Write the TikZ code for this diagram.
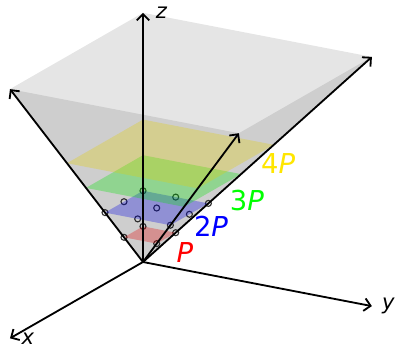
\documentclass[tikz,border=0pt]{standalone}
\usepackage{fontspec}
\setmainfont{DejaVu Sans}
\usetikzlibrary{arrows.meta}
\definecolor{lred}{HTML}{FF0000}
\definecolor{lblue}{HTML}{0000FF}
\definecolor{lgreen}{HTML}{00FF00}
\definecolor{lyellow}{HTML}{FFE600}
\tikzset{
  face/.style={fill=black, fill opacity=0.1, draw=none},
  layer/.style={fill opacity=0.3, draw=none},
  axis/.style={-{Straight Barb[length=4.5pt,width=9pt]}, line width=1.3pt, black},
  lattice/.style={draw=black!80, line width=0.8pt},
  axlabel/.style={font=\fontsize{15}{17}\selectfont, inner sep=0pt},
  laylabel/.style={font=\fontsize{19.5}{22}\selectfont, inner sep=0pt},
}
\begin{document}
\begin{tikzpicture}[
    x={(-0.475cm,-0.2725cm)}, y={(0.8175cm,-0.1575cm)}, z={(0cm,0.89cm)}
  ]
  \useasboundingbox (-3.575cm,-2.125cm) rectangle (6.375cm,6.55cm);

  \coordinate (O) at (0,0,0);
  \coordinate (X) at (7,0,0);
  \coordinate (Y) at (0,7,0);
  \coordinate (Z) at (0,0,7);
  \coordinate (A) at (7,0,7);
  \coordinate (B) at (0,7,7);
  \coordinate (C) at (7,7,7);

  % back of the cone
  \fill[face] (O) -- (A) -- (Z) -- (B) -- cycle;

  % lattice points of P and 2P
  \foreach \k in {1,2}
    \foreach \i in {0,...,\k}
      \foreach \j in {0,...,\k}
        \draw[lattice] (\i,\j,\k) circle[radius=0.075cm];

  % dilates kP
  \foreach \k/\col in {1/lred, 2/lblue, 3/lgreen, 4/lyellow}
    \fill[layer, fill=\col] (0,0,\k) -- (\k,0,\k) -- (\k,\k,\k) -- (0,\k,\k) -- cycle;

  % front of the cone
  \fill[face] (O) -- (A) -- (C) -- (B) -- cycle;

  \draw[axis] (O) -- (X);
  \draw[axis] (O) -- (Y);
  \draw[axis] (O) -- (Z);
  \draw[axis] (O) -- (A);
  \draw[axis] (O) -- (B);
  \draw[axis] (O) -- (C);

  \node[axlabel, right=8pt] (xl) at (X) {\textit{x}};
  \node[axlabel, right=7pt] (yl) at (Y) {\textit{y}};
  \node[axlabel, right=9pt] (zl) at (Z) {\textit{z}};

  \node[laylabel, text=lred] (l1) at (0,1.28,0.48) {\textit{P}};
  \node[laylabel, text=lblue] (l2) at (0,2.08,1.38) {2\textit{P}};
  \node[laylabel, text=lgreen] (l3) at (0,3.18,2.3) {3\textit{P}};
  \node[laylabel, text=lyellow] (l4) at (0,4.13,3.51) {4\textit{P}};
\end{tikzpicture}
\end{document}
